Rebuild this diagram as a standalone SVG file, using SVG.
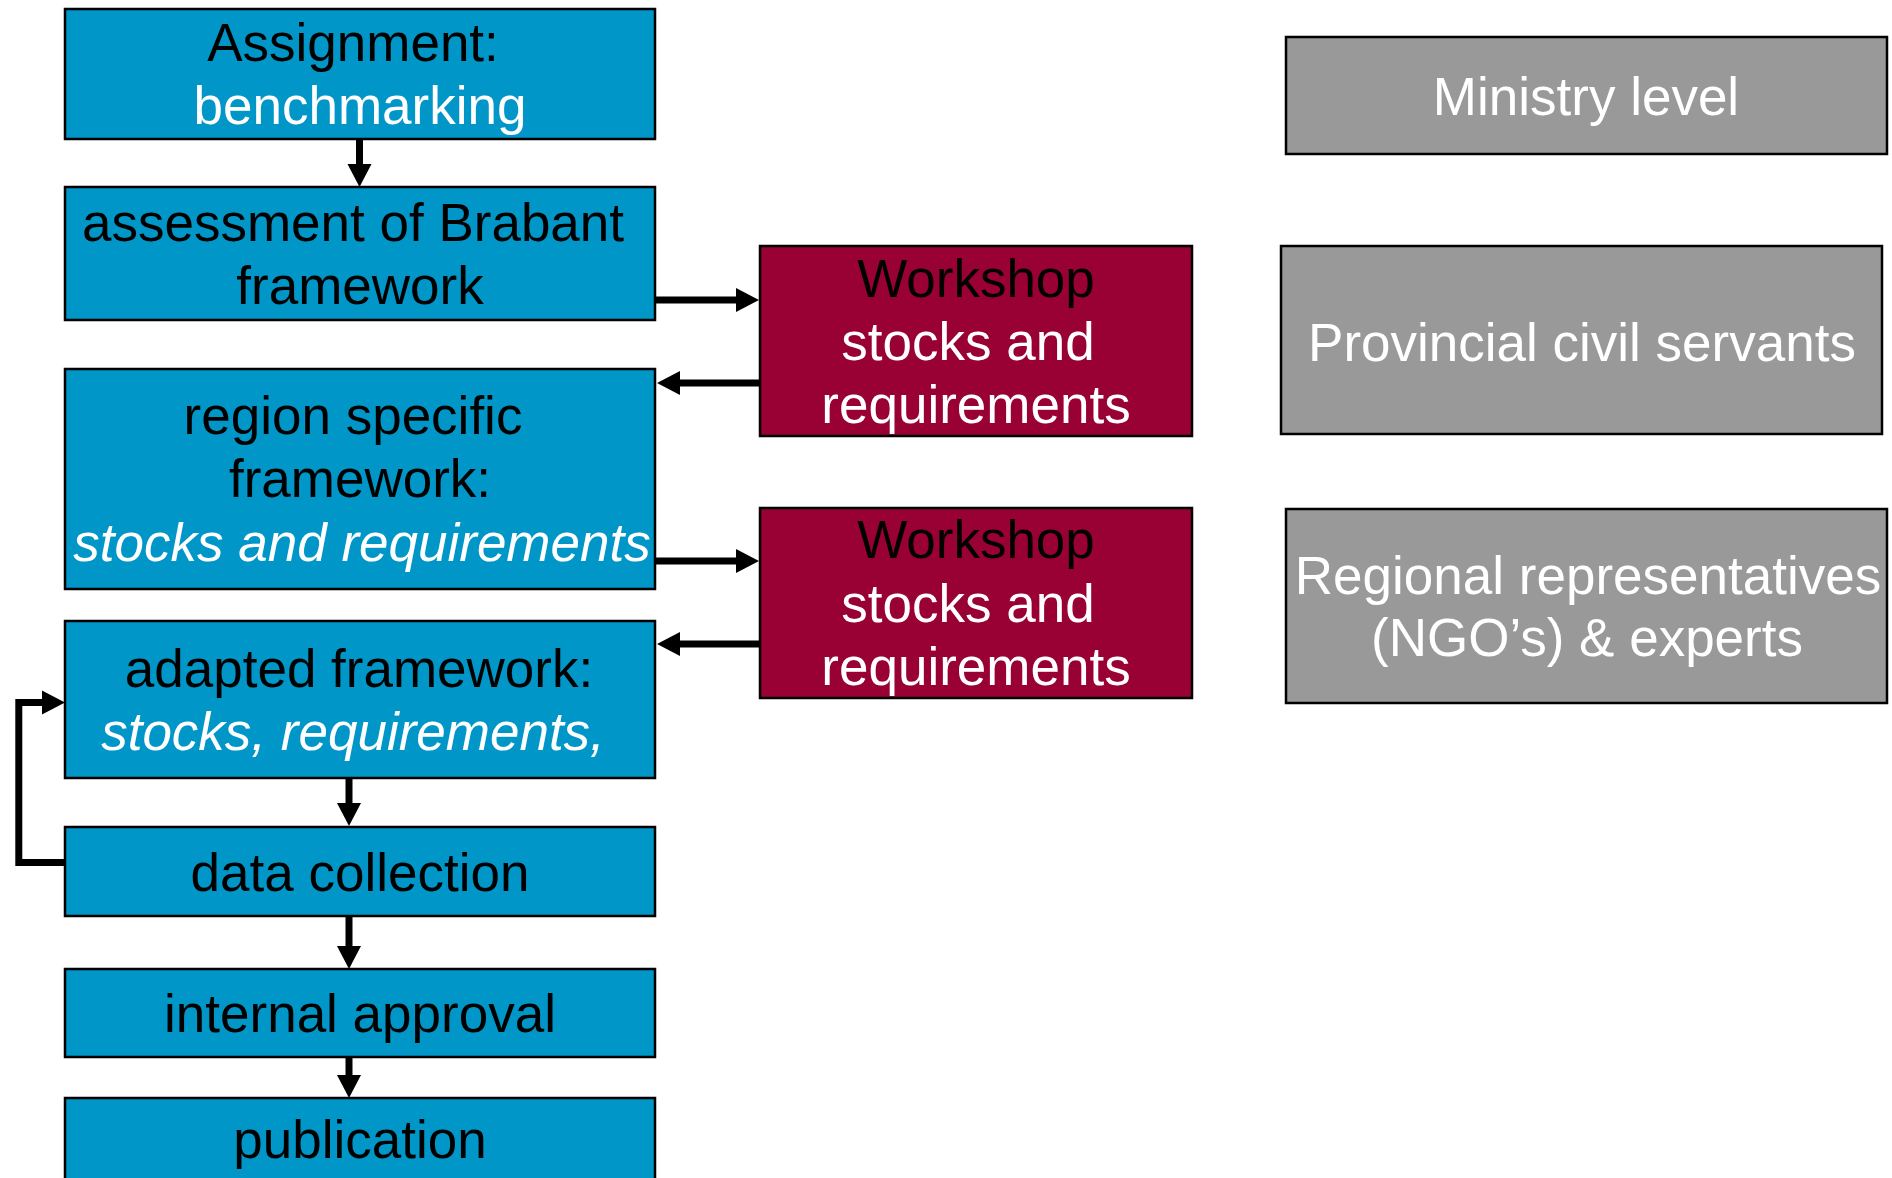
<svg xmlns="http://www.w3.org/2000/svg" width="1892" height="1178" viewBox="0 0 1892 1178">
<style>
.blue{fill:#0096c8;stroke:#000;stroke-width:2.5}
.red{fill:#990033;stroke:#000;stroke-width:2.5}
.grey{fill:#999999;stroke:#000;stroke-width:2.5}
text{font-family:"Liberation Sans",Arial,sans-serif;font-size:53px;text-anchor:middle}
.k{fill:#000}
.w{fill:#fff}
.i{fill:#fff;font-style:italic}
.c{fill:none;stroke:#000;stroke-width:7}
</style>
<defs>
<marker id="ah" markerUnits="userSpaceOnUse" markerWidth="26" markerHeight="26" refX="2" refY="12" orient="auto" overflow="visible">
<path d="M0,0 L23,12 L0,24 z" fill="#000"/>
</marker>
</defs>
<rect width="1892" height="1178" fill="#fff"/>
<g id="connectors">
<path class="c" d="M359.5,140 V166" marker-end="url(#ah)"/>
<path class="c" d="M655,300 H738" marker-end="url(#ah)"/>
<path class="c" d="M760,383 H678" marker-end="url(#ah)"/>
<path class="c" d="M655,561 H738" marker-end="url(#ah)"/>
<path class="c" d="M760,644 H678" marker-end="url(#ah)"/>
<path class="c" d="M349,778 V805" marker-end="url(#ah)"/>
<path class="c" d="M65,862.5 H18.8 V702.5 H44" marker-end="url(#ah)"/>
<path class="c" d="M349,916 V948" marker-end="url(#ah)"/>
<path class="c" d="M349,1057 V1077" marker-end="url(#ah)"/>
</g>
<g id="assignment">
<rect class="blue" x="65" y="9" width="590" height="130"/>
<text class="k" x="353" y="61">Assignment:</text>
<text class="w" x="360" y="124">benchmarking</text>
</g>
<g id="assessment">
<rect class="blue" x="65" y="187" width="590" height="133"/>
<text class="k" x="353" y="241">assessment of Brabant</text>
<text class="k" x="360" y="304">framework</text>
</g>
<g id="region">
<rect class="blue" x="65" y="369" width="590" height="220"/>
<text class="k" x="353" y="434">region specific</text>
<text class="k" x="360" y="497">framework:</text>
<text class="i" x="362" y="561">stocks and requirements</text>
</g>
<g id="adapted">
<rect class="blue" x="65" y="621" width="590" height="157"/>
<text class="k" x="359" y="687">adapted framework:</text>
<text class="i" x="353" y="750">stocks, requirements,</text>
</g>
<g id="datacollection">
<rect class="blue" x="65" y="827" width="590" height="89"/>
<text class="k" x="360" y="891">data collection</text>
</g>
<g id="internal">
<rect class="blue" x="65" y="969" width="590" height="88"/>
<text class="k" x="360" y="1032">internal approval</text>
</g>
<g id="publication">
<rect class="blue" x="65" y="1098" width="590" height="100"/>
<text class="k" x="360" y="1158">publication</text>
</g>
<g id="workshop1">
<rect class="red" x="760" y="246" width="432" height="190"/>
<text class="k" x="976" y="297">Workshop</text>
<text class="w" x="968" y="360">stocks and</text>
<text class="w" x="976" y="423">requirements</text>
</g>
<g id="workshop2">
<rect class="red" x="760" y="508" width="432" height="190"/>
<text class="k" x="976" y="558">Workshop</text>
<text class="w" x="968" y="622">stocks and</text>
<text class="w" x="976" y="685">requirements</text>
</g>
<g id="ministry">
<rect class="grey" x="1286" y="37" width="601" height="117"/>
<text class="w" x="1586" y="115">Ministry level</text>
</g>
<g id="provincial">
<rect class="grey" x="1281" y="246" width="601" height="188"/>
<text class="w" x="1582" y="361">Provincial civil servants</text>
</g>
<g id="regional">
<rect class="grey" x="1286" y="509" width="601" height="194"/>
<text class="w" x="1588" y="594">Regional representatives</text>
<text class="w" x="1587" y="656">(NGO’s) &amp; experts</text>
</g>
</svg>
